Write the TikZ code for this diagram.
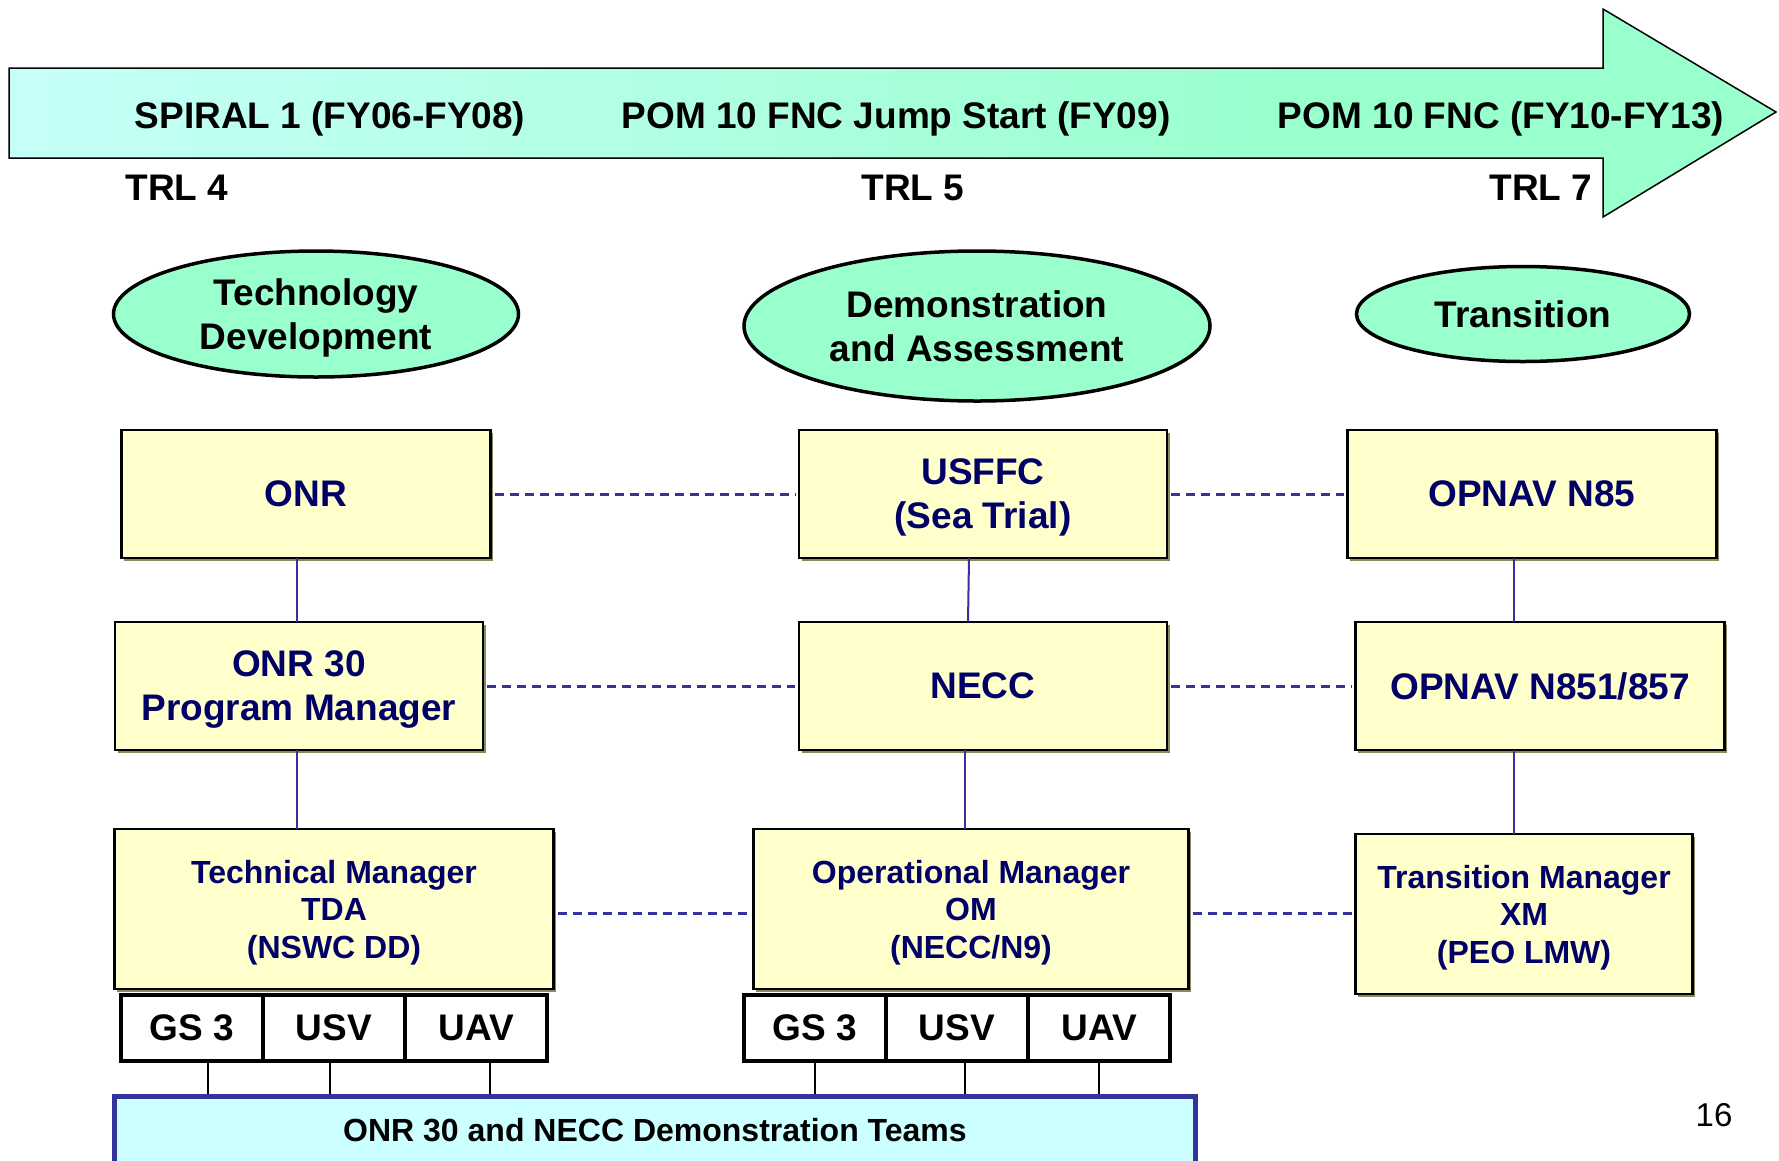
\documentclass[tikz,border=0pt]{standalone}
\usepackage{fontspec}
\setmainfont{Liberation Sans}
\usepackage{tikz}
\usetikzlibrary{shapes.geometric, positioning, shadows, calc}
\usepackage{xcolor}
\definecolor{mintgreen}{HTML}{99FFCC}
\definecolor{palecyan}{HTML}{CCFFFF}
\definecolor{paleyellow}{HTML}{FFFFCC}
\definecolor{navytext}{HTML}{000066}
\definecolor{linkblue}{HTML}{333399}
\definecolor{shadowolive}{HTML}{8A8A5C}
\pgfdeclarehorizontalshading{timeline}{100bp}{color(0bp)=(palecyan); color(20bp)=(palecyan); color(62bp)=(mintgreen); color(100bp)=(mintgreen)}

\begin{document}
\begin{tikzpicture}[x=1pt, y=-1pt,
  phase/.style={ellipse, draw=black, fill=mintgreen, line width=3.5pt,
    inner sep=0pt, align=center, text depth=0pt, font=\fontsize{37}{44}\selectfont\bfseries},
  orgbox/.style={rectangle, draw=black, fill=paleyellow, line width=2.5pt,
    text=navytext, align=center, inner sep=0pt, outer sep=0pt, text depth=0pt,
    font=\fontsize{37}{44}\selectfont\bfseries,
    drop shadow={shadow xshift=2.5pt, shadow yshift=-2.5pt, fill=shadowolive, opacity=1}},
  mgrbox/.style={orgbox, font=\fontsize{32}{37.5}\selectfont\bfseries},
  assetbox/.style={rectangle, draw=black, fill=white, line width=3.5pt,
    minimum width=142pt, minimum height=66pt, inner sep=0pt, outer sep=0pt,
    font=\fontsize{37}{44}\selectfont\bfseries},
  phaselabel/.style={font=\fontsize{37}{44}\selectfont\bfseries, inner sep=0pt, text depth=0pt},
  peer/.style={draw=linkblue, line width=3pt, dash pattern=on 9pt off 6pt, shorten <=4pt, shorten >=4pt},
  chain/.style={draw=linkblue, line width=2pt},
  feed/.style={draw=black, line width=1.5pt}]

\useasboundingbox (0,0) rectangle (1779,1160);

% timeline arrow
\path[draw=black, line width=1.5pt, shading=timeline]
  (9,68) -- (1603,68) -- (1603,9) -- (1776,112) -- (1603,217) -- (1603,158) -- (9,158) -- cycle;
\node[phaselabel] (spiral) at (330,115) {SPIRAL 1 (FY06-FY08)};
\node[phaselabel] (jumpstart) at (896,115) {POM 10 FNC Jump Start (FY09)};
\node[phaselabel] (fnc) at (1501,115) {POM 10 FNC (FY10-FY13)};
\node[phaselabel] (trlfour) at (177,188) {TRL 4};
\node[phaselabel] (trlfive) at (913,188) {TRL 5};
\node[phaselabel] (trlseven) at (1541,188) {TRL 7};

% phases
\node[phase, minimum width=405pt, minimum height=126pt] (techdev) at (316,314) {Technology\\Development};
\node[phase, minimum width=466pt, minimum height=150pt] (demo) at (977,326) {Demonstration\\and Assessment};
\node[phase, minimum width=333pt, minimum height=95pt] (transition) at (1523,314) {Transition};

% organisations
\node[orgbox, minimum width=369pt, minimum height=128pt] (onr) at (306,494) {ONR};
\node[orgbox, minimum width=368pt, minimum height=128pt] (usffc) at (983,494) {USFFC\\(Sea Trial)};
\node[orgbox, minimum width=369pt, minimum height=128pt] (opnavhq) at (1532,494) {OPNAV N85};
\node[orgbox, minimum width=368pt, minimum height=128pt] (onrpm) at (299,686) {ONR 30\\Program Manager};
\node[orgbox, minimum width=368pt, minimum height=128pt] (necc) at (983,686) {NECC};
\node[orgbox, minimum width=369pt, minimum height=128pt] (opnavsub) at (1540,686) {OPNAV N851/857};
\node[mgrbox, minimum width=439pt, minimum height=160pt] (techmgr) at (334,909) {Technical Manager\\TDA\\(NSWC DD)};
\node[mgrbox, minimum width=435pt, minimum height=160pt] (opmgr) at (971,909) {Operational Manager\\OM\\(NECC/N9)};
\node[mgrbox, minimum width=337pt, minimum height=160pt] (transmgr) at (1524,914) {Transition Manager\\XM\\(PEO LMW)};

% assets
\node[assetbox] (gsleft) at (192,1028) {GS 3};
\node[assetbox, right=0pt of gsleft] (usvleft) {USV};
\node[assetbox, right=0pt of usvleft] (uavleft) {UAV};
\node[assetbox] (gsright) at (815,1028) {GS 3};
\node[assetbox, right=0pt of gsright] (usvright) {USV};
\node[assetbox, right=0pt of usvright] (uavright) {UAV};

\node[rectangle, draw=linkblue, fill=palecyan, line width=5pt, minimum width=1081pt,
      minimum height=68pt, inner sep=0pt, font=\fontsize{32}{37}\selectfont\bfseries]
      (teams) at (655,1130) {ONR 30 and NECC Demonstration Teams};

\node[font=\fontsize{33}{38}\selectfont, inner sep=0pt] (pagenum) at (1714,1115) {16};

% chain of command
\draw[chain] ([xshift=-9pt]onr.south) -- ([xshift=-9pt]onr.south |- onrpm.north);
\draw[chain] ([xshift=-2pt]onrpm.south) -- ([xshift=-2pt]onrpm.south |- techmgr.north);
\draw[chain] ([xshift=-14pt]usffc.south) -- ([xshift=-15pt]necc.north);
\draw[chain] ([xshift=-18pt]necc.south) -- ([xshift=-18pt]necc.south |- opmgr.north);
\draw[chain] ([xshift=-18pt]opnavhq.south) -- ([xshift=-18pt]opnavhq.south |- opnavsub.north);
\draw[chain] ([xshift=-26pt]opnavsub.south) -- ([xshift=-26pt]opnavsub.south |- transmgr.north);

% peers
\draw[peer] (onr.east) -- (usffc.west);
\draw[peer] (usffc.east) -- (opnavhq.west);
\draw[peer] (onrpm.east) -- (necc.west);
\draw[peer] (necc.east) -- (opnavsub.west);
\draw[peer] ([yshift=-4pt]techmgr.east) -- ([yshift=-4pt]opmgr.west);
\draw[peer] ([yshift=-4pt]opmgr.east) -- ([yshift=-4pt]opmgr.east -| transmgr.west);

% assets to teams
\draw[feed] ([xshift=16pt]gsleft.south) -- ([xshift=16pt]gsleft.south |- teams.north);
\draw[feed] ([xshift=-4pt]usvleft.south) -- ([xshift=-4pt]usvleft.south |- teams.north);
\draw[feed] ([xshift=14pt]uavleft.south) -- ([xshift=14pt]uavleft.south |- teams.north);
\draw[feed] (gsright.south) -- (gsright.south |- teams.north);
\draw[feed] ([xshift=8pt]usvright.south) -- ([xshift=8pt]usvright.south |- teams.north);
\draw[feed] (uavright.south) -- (uavright.south |- teams.north);
\end{tikzpicture}
\end{document}
